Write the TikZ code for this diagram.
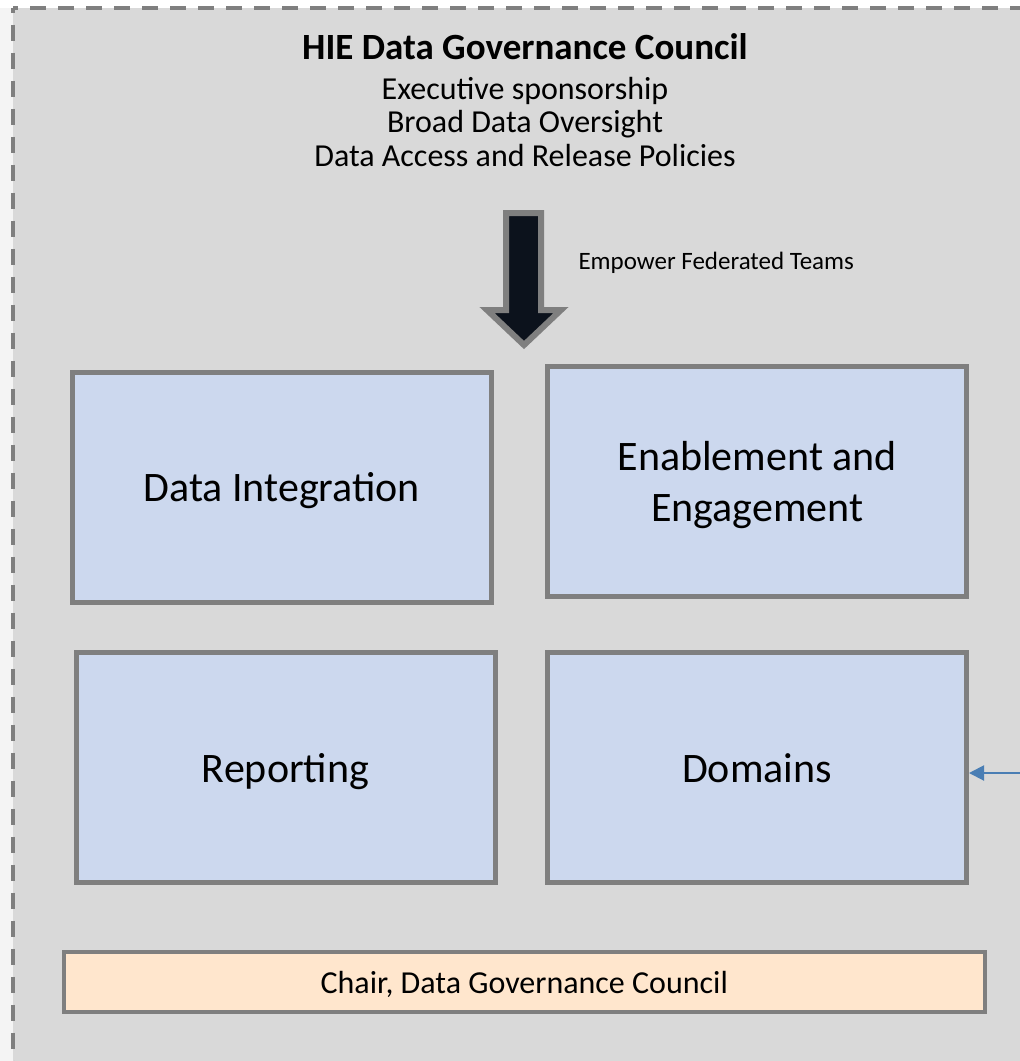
\documentclass[tikz,border=0pt]{standalone}
\usepackage{fontspec}
\setmainfont{Carlito}
\usetikzlibrary{arrows.meta}
\definecolor{panelgray}{RGB}{217,217,217}
\definecolor{edgegray}{RGB}{127,127,127}
\definecolor{stripgray}{RGB}{244,244,244}
\definecolor{teamblue}{RGB}{204,216,238}
\definecolor{chairpeach}{RGB}{255,230,205}
\definecolor{arrowink}{RGB}{12,18,28}
\definecolor{linkblue}{RGB}{74,126,180}

\begin{document}
\begin{tikzpicture}
        [x=1pt,y=-1pt,
         team/.style={draw=edgegray, line width=5pt, fill=teamblue, inner sep=0pt,
           minimum width=419pt, minimum height=230pt, align=center, text depth=0pt,
           font=\fontsize{42}{51}\selectfont},
         chairbox/.style={draw=edgegray, line width=3.5pt, fill=chairpeach, inner sep=0pt,
           minimum width=921pt, minimum height=60pt, text depth=0pt, font=\fontsize{32}{34}\selectfont},
         frame/.style={draw=edgegray, line width=4pt, dash pattern=on 16pt off 12pt, dash phase=11pt}]
      \useasboundingbox (0,0) rectangle (1020,1061);
      \clip (0,0) rectangle (1020,1061);
      \fill[white] (0,0) rectangle (1020,1061);
      \fill[stripgray] (0,7.5) rectangle (13,1061);
      \fill[panelgray] (13,7.5) rectangle (1040,1080);
      \draw[frame] (13,7.5) -- (1040,7.5);
      \draw[frame] (13,7.5) -- (13,1080);

      \node[font=\fontsize{37}{40}\selectfont\bfseries] (council) at (525,47) {HIE Data Governance Council};
      \node[align=center, font=\fontsize{32}{33.5}\selectfont] (remit) at (525,122)
        {Executive sponsorship\\Broad Data Oversight\\Data Access and Release Policies};

      % block arrow down to the teams
      \filldraw[fill=arrowink, draw=edgegray, line width=6pt, line join=miter]
        (506,213) -- (541,213) -- (541,310) -- (561,310) -- (524,345) -- (487,310) -- (506,310) -- cycle;
      \node[anchor=west, font=\fontsize{25}{27}\selectfont] (empower) at (575,263) {Empower Federated Teams};

      \node[team] (integration) at (281.75,487.25) {Data Integration};
      \node[team] (enablement) at (757.25,481) {Enablement and\\Engagement};
      \node[team] (reporting) at (285.5,767.5) {Reporting};
      \node[team] (domains) at (757,767.75) {Domains};

      \node[chairbox] (chair) at (524.25,982) {Chair, Data Governance Council};

      \coordinate (feed) at (1030,773);
      \draw[linkblue, line width=2pt, -{Triangle[length=15pt,width=15pt]}] (feed) -- (feed -| domains.east);
    \end{tikzpicture}
\end{document}
